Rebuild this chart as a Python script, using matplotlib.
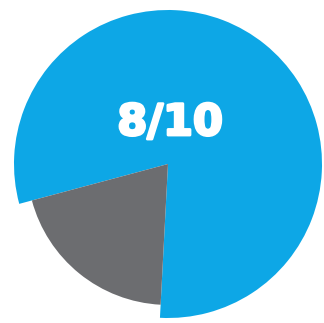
import matplotlib
matplotlib.use("Agg")
import matplotlib.pyplot as plt
import matplotlib.patheffects as pe

labels = ["Yes", "No"]
values = [8, 2]
colors = ["#0DA7E6", "#6C6D70"]
center_text = "8/10"

fig = plt.figure(figsize=(3.24, 3.23), dpi=100)
ax = fig.add_axes([0, 0, 1, 1])
wedges, _ = ax.pie(values, colors=colors, startangle=267, counterclock=True,
                   radius=1.0, wedgeprops=dict(linewidth=0))
wedges[1].set_radius(0.915)
r = 154.0
ax.set_xlim(-168 / r, (324 - 168) / r)
ax.set_ylim(-(323 - 164) / r, 164 / r)
ax.set_aspect('auto')
ax.axis('off')
ax.text(0.013, 0.266, center_text, ha='center', va='center', color='white',
        fontsize=31, fontweight='heavy', family=['DejaVu Sans'],
        path_effects=[pe.withStroke(linewidth=2.0, foreground='white')])
fig.savefig("out.png", dpi=100, facecolor='white')
